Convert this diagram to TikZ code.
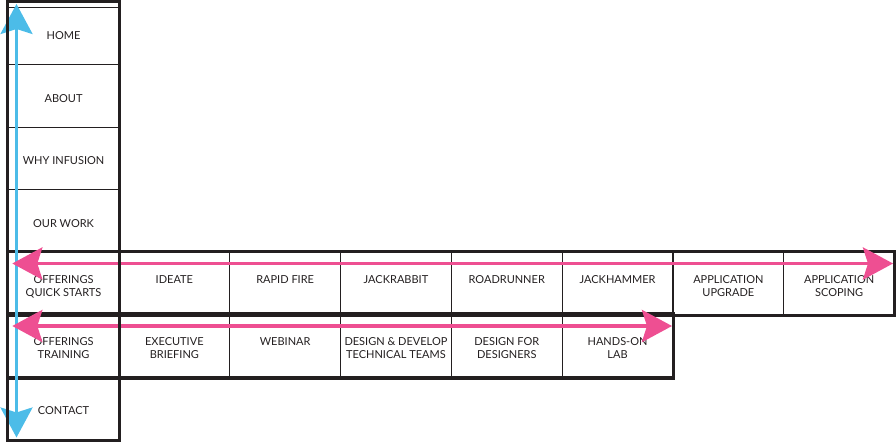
\documentclass[tikz,border=0pt]{standalone}
\usepackage{fontspec}
\setmainfont{Lato}
\usetikzlibrary{arrows.meta}
\definecolor{ink}{HTML}{231F20}
\definecolor{navblue}{HTML}{4CBCE8}
\definecolor{navpink}{HTML}{EE4F92}

\begin{document}
\begin{tikzpicture}[x=1pt,y=-1pt,
  cell/.style={draw=ink, line width=1.3pt, anchor=north west, minimum width=110.8pt, minimum height=62.5pt,
    inner sep=0pt, align=center, text=ink, font=\fontsize{11}{13}\selectfont},
  navcell/.style={cell, text height=12.9pt},
  celltext/.style={anchor=north, yshift=-23.5pt, inner sep=0pt, align=center, text=ink, font=\fontsize{11}{13}\selectfont},
  frame/.style={draw=ink, line width=3.5pt},
  >={Stealth[length=30pt, width=32pt, inset=5pt]}]
\useasboundingbox (0,0) rectangle (896,442);

% main column
\node[cell, minimum height=57.5pt] (home) at (7.5,6.5) {HOME};
\node[navcell] (about) at (7.5,64) {ABOUT};
\node[navcell] (why) at (7.5,126.5) {WHY INFUSION};
\node[navcell] (work) at (7.5,189) {OUR WORK};
\node[cell, label={[celltext]north:OFFERINGS\\QUICK STARTS}] (qs) at (7.5,251.5) {};
\node[cell, label={[celltext, yshift=0.5pt]north:OFFERINGS\\TRAINING}] (tr) at (7.5,314) {};
\node[navcell] (contact) at (7.5,376.5) {CONTACT};

% quick starts
\node[cell, label={[celltext]north:IDEATE}] (ideate) at (118.3,251.5) {};
\node[cell, label={[celltext]north:RAPID FIRE}] (rapid) at (229.1,251.5) {};
\node[cell, label={[celltext]north:JACKRABBIT}] (jrab) at (339.9,251.5) {};
\node[cell, label={[celltext]north:ROADRUNNER}] (road) at (450.7,251.5) {};
\node[cell, label={[celltext]north:JACKHAMMER}] (jham) at (561.5,251.5) {};
\node[cell, label={[celltext]north:APPLICATION\\UPGRADE}] (upg) at (672.3,251.5) {};
\node[cell, label={[celltext]north:APPLICATION\\SCOPING}] (scope) at (783.1,251.5) {};

% training
\node[cell, label={[celltext, yshift=0.5pt]north:EXECUTIVE\\BRIEFING}] (exec) at (118.3,314) {};
\node[cell, label={[celltext, yshift=0.5pt]north:WEBINAR}] (web) at (229.1,314) {};
\node[cell, label={[celltext, yshift=0.5pt]north:DESIGN \& DEVELOP\\TECHNICAL TEAMS}] (dev) at (339.9,314) {};
\node[cell, label={[celltext, yshift=0.5pt]north:DESIGN FOR\\DESIGNERS}] (des) at (450.7,314) {};
\node[cell, label={[celltext, yshift=0.5pt]north:HANDS-ON\\LAB}] (lab) at (561.5,314) {};

\draw[frame] (qs.north west) rectangle (scope.south east);
\draw[frame] (tr.north west) rectangle (lab.south east);

\coordinate (navtop) at (16.5,4);
\coordinate (navbot) at (16.5,437.5);
\coordinate (qsl) at (12.3,263.5);
\coordinate (qsr) at (893,263.5);
\coordinate (trl) at (12.3,326);
\coordinate (trr) at (672,326);

\draw[navblue, line width=3pt, <->] (navtop) -- (navbot);
\draw[navpink, line width=3.8pt, <->] (qsl) -- (qsr);
\draw[navpink, line width=3.8pt, <->] (trl) -- (trr);

\draw[frame] ([yshift=5pt]home.north west) rectangle (contact.south east);
\end{tikzpicture}
\end{document}
